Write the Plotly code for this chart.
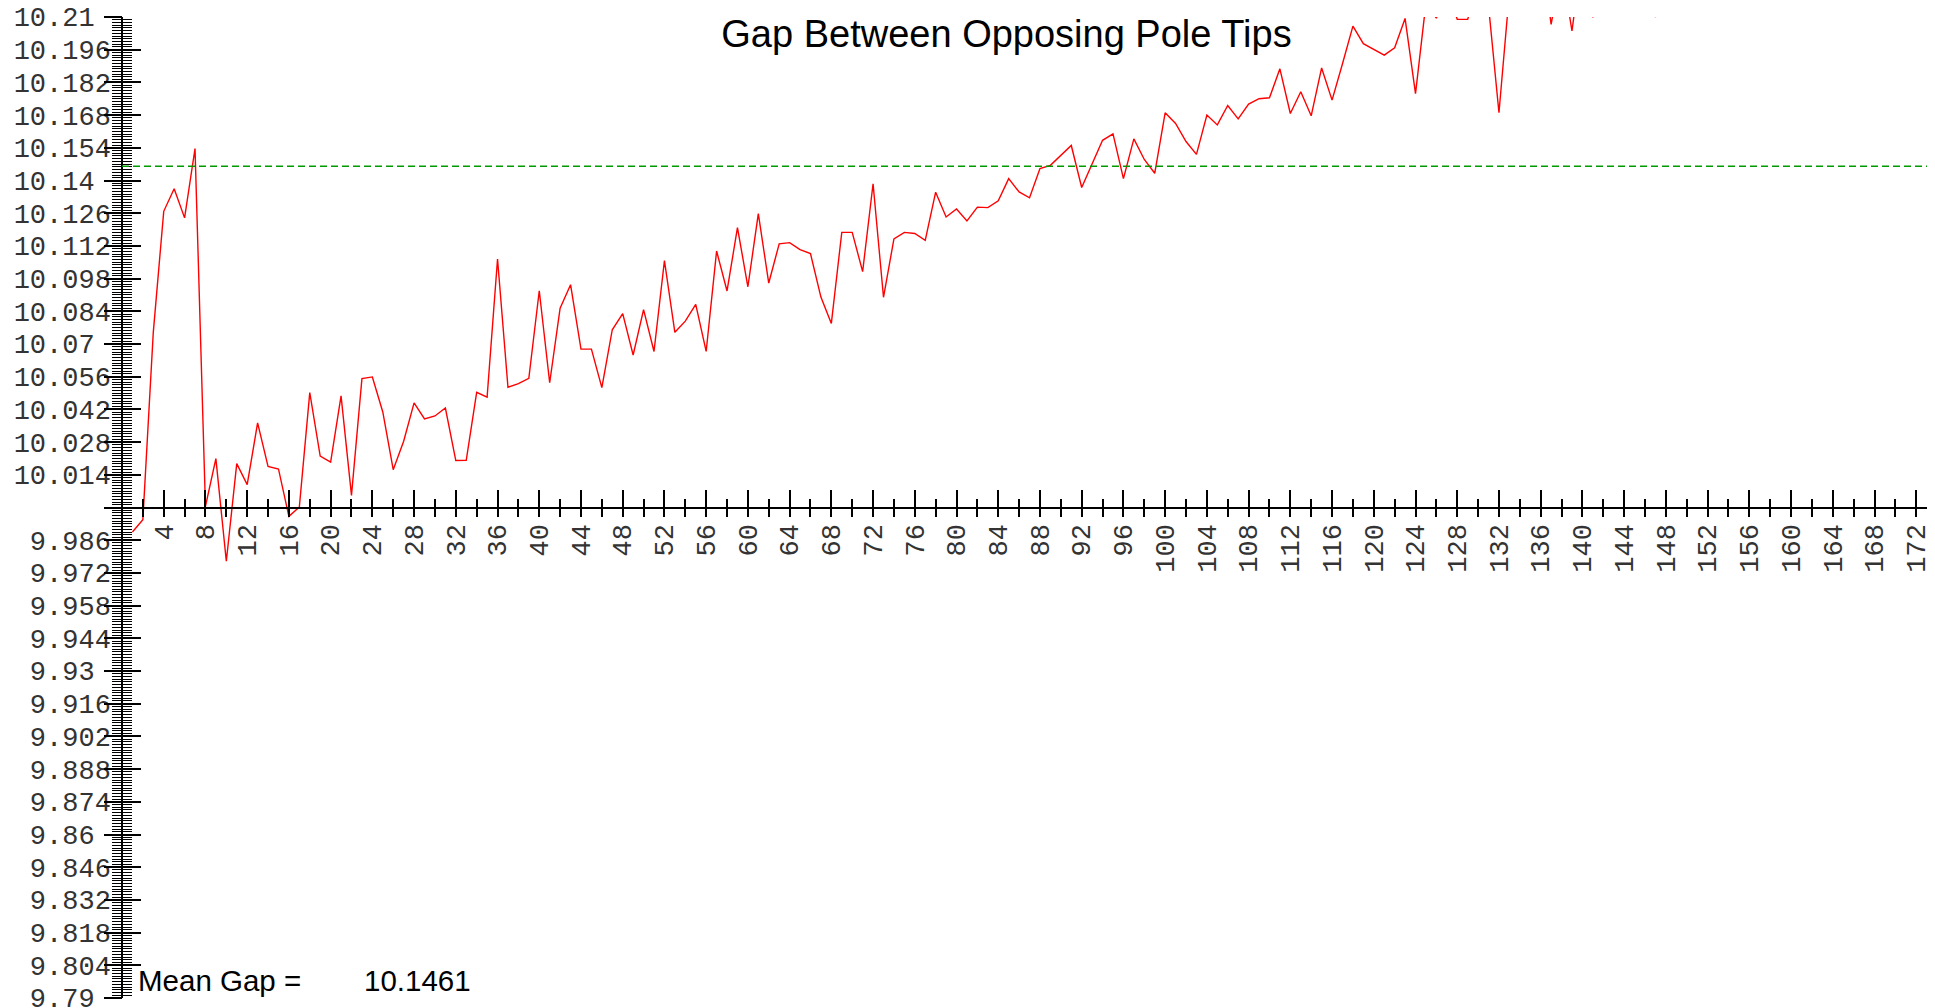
import plotly.graph_objects as go

# ---------------- data ----------------
SAMPLE_NO = list(range(1, 174))
GAP = [
    9.9895, 9.9948, 10.075, 10.1268, 10.1365, 10.124, 10.1537, 10.0005, 10.0209, 9.977,
    10.0188, 10.0098, 10.0362, 10.0176, 10.0165, 9.9962, 10.0002, 10.0492, 10.022, 10.0194,
    10.0478, 10.0052, 10.0552, 10.0559, 10.0409, 10.0162, 10.0284, 10.0448, 10.0379, 10.0392,
    10.0426, 10.0201, 10.0202, 10.0493, 10.0472, 10.1064, 10.0515, 10.053, 10.0553, 10.0928,
    10.0534, 10.0853, 10.0954, 10.0678, 10.0678, 10.0513, 10.0761, 10.083, 10.0653, 10.0847,
    10.0668, 10.1057, 10.075, 10.0798, 10.087, 10.0668, 10.1098, 10.0927, 10.1198, 10.0945,
    10.1258, 10.0961, 10.1129, 10.1134, 10.1104, 10.1087, 10.0901, 10.0788, 10.1178, 10.1178,
    10.101, 10.1386, 10.09, 10.115, 10.1178, 10.1173, 10.1144, 10.135, 10.1244, 10.1278,
    10.1227, 10.1286, 10.1284, 10.1313, 10.1408, 10.1351, 10.1326, 10.1451, 10.1465, 10.1508,
    10.155, 10.137, 10.1473, 10.1572, 10.16, 10.1408, 10.1578, 10.149, 10.1431, 10.169,
    10.1644, 10.1567, 10.1512, 10.168, 10.1638, 10.1721, 10.1664, 10.1727, 10.175, 10.1754,
    10.1878, 10.1687, 10.178, 10.1677, 10.1882, 10.1744, 10.19, 10.2061, 10.1986, 10.1962,
    10.1937, 10.1968, 10.2094, 10.1772, 10.216, 10.2095, 10.222, 10.209, 10.209, 10.224,
    10.2148, 10.169, 10.2205, 10.235, 10.228, 10.241, 10.2068, 10.232, 10.204, 10.238,
    10.2098, 10.236, 10.248, 10.241, 10.255, 10.247, 10.2099, 10.252, 10.262, 10.257,
    10.27, 10.264, 10.278, 10.268, 10.281, 10.274, 10.289, 10.279, 10.292, 10.285,
    10.296, 10.288, 10.301, 10.293, 10.303, 10.295, 10.308, 10.3, 10.312, 10.304,
    10.316, 10.308, 10.32,
]
MEAN_GAP = 10.1461

TITLE = "Gap Between Opposing Pole Tips"
MEAN_LABEL = "Mean Gap ="
MEAN_TEXT = "10.1461"

X_TICK_VALUES = [4, 8, 12, 16, 20, 24, 28, 32, 36, 40, 44, 48, 52, 56, 60, 64, 68, 72,
                 76, 80, 84, 88, 92, 96, 100, 104, 108, 112, 116, 120, 124, 128, 132,
                 136, 140, 144, 148, 152, 156, 160, 164, 168, 172]
X_TICK_LABELS = [str(v) for v in X_TICK_VALUES]

Y_TICK_LABELS = ["9.79", "9.804", "9.818", "9.832", "9.846", "9.86", "9.874", "9.888",
                 "9.902", "9.916", "9.93", "9.944", "9.958", "9.972", "9.986", "",
                 "10.014", "10.028", "10.042", "10.056", "10.07", "10.084", "10.098",
                 "10.112", "10.126", "10.14", "10.154", "10.168", "10.182", "10.196", "10.21"]
Y_TICK_VALUES = [9.79, 9.804, 9.818, 9.832, 9.846, 9.86, 9.874, 9.888, 9.902, 9.916,
                 9.93, 9.944, 9.958, 9.972, 9.986, 10.0, 10.014, 10.028, 10.042, 10.056,
                 10.07, 10.084, 10.098, 10.112, 10.126, 10.14, 10.154, 10.168, 10.182,
                 10.196, 10.21]

Y_RANGE = [9.79, 10.21]
X_RANGE = [0, 173.8]

# -------------- styling --------------
# the page body has an 8px margin, so the figure is sized/offset to compensate
OFF = 8
W, H = 1935 - OFF, 1008 - OFF
ML, MR, MT, MB = 122 - OFF, 0, 17 - OFF, 10
PW, PH = W - ML - MR, H - MT - MB
MONO = "Liberation Mono, Courier New, monospace"
SANS = "Liberation Sans, Arial, sans-serif"
TICK_FONT = dict(family=MONO, size=27, color="#333333")
LW = 1.5


def pad_label(s):
    if not s:
        return s
    dec = len(s.split(".")[1]) if "." in s else 0
    return s + "\u00a0" * (3 - dec)


def px_x(page_x):
    return (page_x - OFF - ML) / PW


def px_y(page_y):
    return (H - MB - (page_y - OFF)) / PH


y_text = [pad_label(s) for s in Y_TICK_LABELS]

fig = go.Figure()
fig.add_trace(go.Scatter(x=SAMPLE_NO, y=GAP, mode="lines",
                         line=dict(color="#ff0000", width=1.4),
                         xaxis="x", yaxis="y", showlegend=False, hoverinfo="skip"))
# empty helper traces so that the overlaid tick axes are drawn
fig.add_trace(go.Scatter(x=[], y=[], xaxis="x2", yaxis="y2", showlegend=False))
fig.add_trace(go.Scatter(x=[], y=[], xaxis="x2", yaxis="y3", showlegend=False))

fig.add_shape(type="line", xref="paper", x0=0, x1=1, yref="y", y0=MEAN_GAP, y1=MEAN_GAP,
              line=dict(color="#009900", width=1.7, dash="7px,4px"))

common = dict(automargin=False, showgrid=False, zeroline=False, ticklabeloverflow="allow")

fig.update_layout(
    width=W, height=H,
    margin=dict(l=ML, r=MR, t=MT, b=MB, pad=0, autoexpand=False),
    paper_bgcolor="white", plot_bgcolor="white",
    showlegend=False,
    title=dict(text=TITLE, x=(1006.5 - OFF) / W, xref="container", xanchor="center",
               y=1 - 26 / H, yref="container", yanchor="middle",
               font=dict(family=SANS, size=38, color="black")),
    xaxis=dict(range=X_RANGE, domain=[0, 1], anchor="free", position=0.5,
               showline=True, linecolor="black", linewidth=LW,
               tickmode="array", tickvals=X_TICK_VALUES, ticktext=X_TICK_LABELS,
               ticks="outside", ticklen=9, tickwidth=LW, tickcolor="black",
               tickangle=-90, tickfont=TICK_FONT, ticklabelstandoff=-4,
               minor=dict(tick0=0, dtick=2, ticks="outside", ticklen=9,
                          tickwidth=LW, tickcolor="black", showgrid=False),
               **common),
    xaxis2=dict(range=X_RANGE, domain=[0, 1], overlaying="x", anchor="free", position=0.5,
                showline=False, showticklabels=False,
                tickmode="linear", tick0=0, dtick=4,
                ticks="inside", ticklen=18, tickwidth=LW, tickcolor="black",
                minor=dict(tick0=0, dtick=2, ticks="inside", ticklen=9,
                           tickwidth=LW, tickcolor="black", showgrid=False),
                **common),
    yaxis=dict(range=Y_RANGE, domain=[0, 1], anchor="free", position=0,
               showline=True, linecolor="black", linewidth=LW,
               tickmode="array", tickvals=Y_TICK_VALUES, ticktext=y_text,
               ticks="outside", ticklen=9, tickwidth=LW, tickcolor="black",
               tickfont=TICK_FONT, ticklabelstandoff=-4,
               minor=dict(tick0=9.79, dtick=0.014 / 12, ticks="outside", ticklen=9,
                          tickwidth=1.2, tickcolor="black", showgrid=False),
               **common),
    yaxis2=dict(range=Y_RANGE, domain=[0, 1], overlaying="y", anchor="free", position=0,
                side="left", showline=False, showticklabels=False,
                tickmode="array", tickvals=Y_TICK_VALUES,
                ticks="outside", ticklen=18, tickwidth=LW, tickcolor="black",
                **common),
    yaxis3=dict(range=Y_RANGE, domain=[0, 1], overlaying="y", anchor="free", position=0,
                side="left", showline=False, showticklabels=False,
                tickmode="array", tickvals=Y_TICK_VALUES,
                ticks="inside", ticklen=18, tickwidth=LW, tickcolor="black",
                minor=dict(tick0=9.79, dtick=0.014 / 12, ticks="inside", ticklen=9,
                           tickwidth=1.2, tickcolor="black", showgrid=False),
                **common),
)

fig.add_annotation(text=MEAN_LABEL, xref="paper", yref="paper",
                   x=px_x(135.5), xanchor="left",
                   y=px_y(980.5), yanchor="middle",
                   showarrow=False, font=dict(family=SANS, size=29.5, color="black"))
fig.add_annotation(text=MEAN_TEXT, xref="paper", yref="paper",
                   x=px_x(362), xanchor="left",
                   y=px_y(980.5), yanchor="middle",
                   showarrow=False, font=dict(family=SANS, size=29.5, color="black"))

fig.write_html("out.html")
